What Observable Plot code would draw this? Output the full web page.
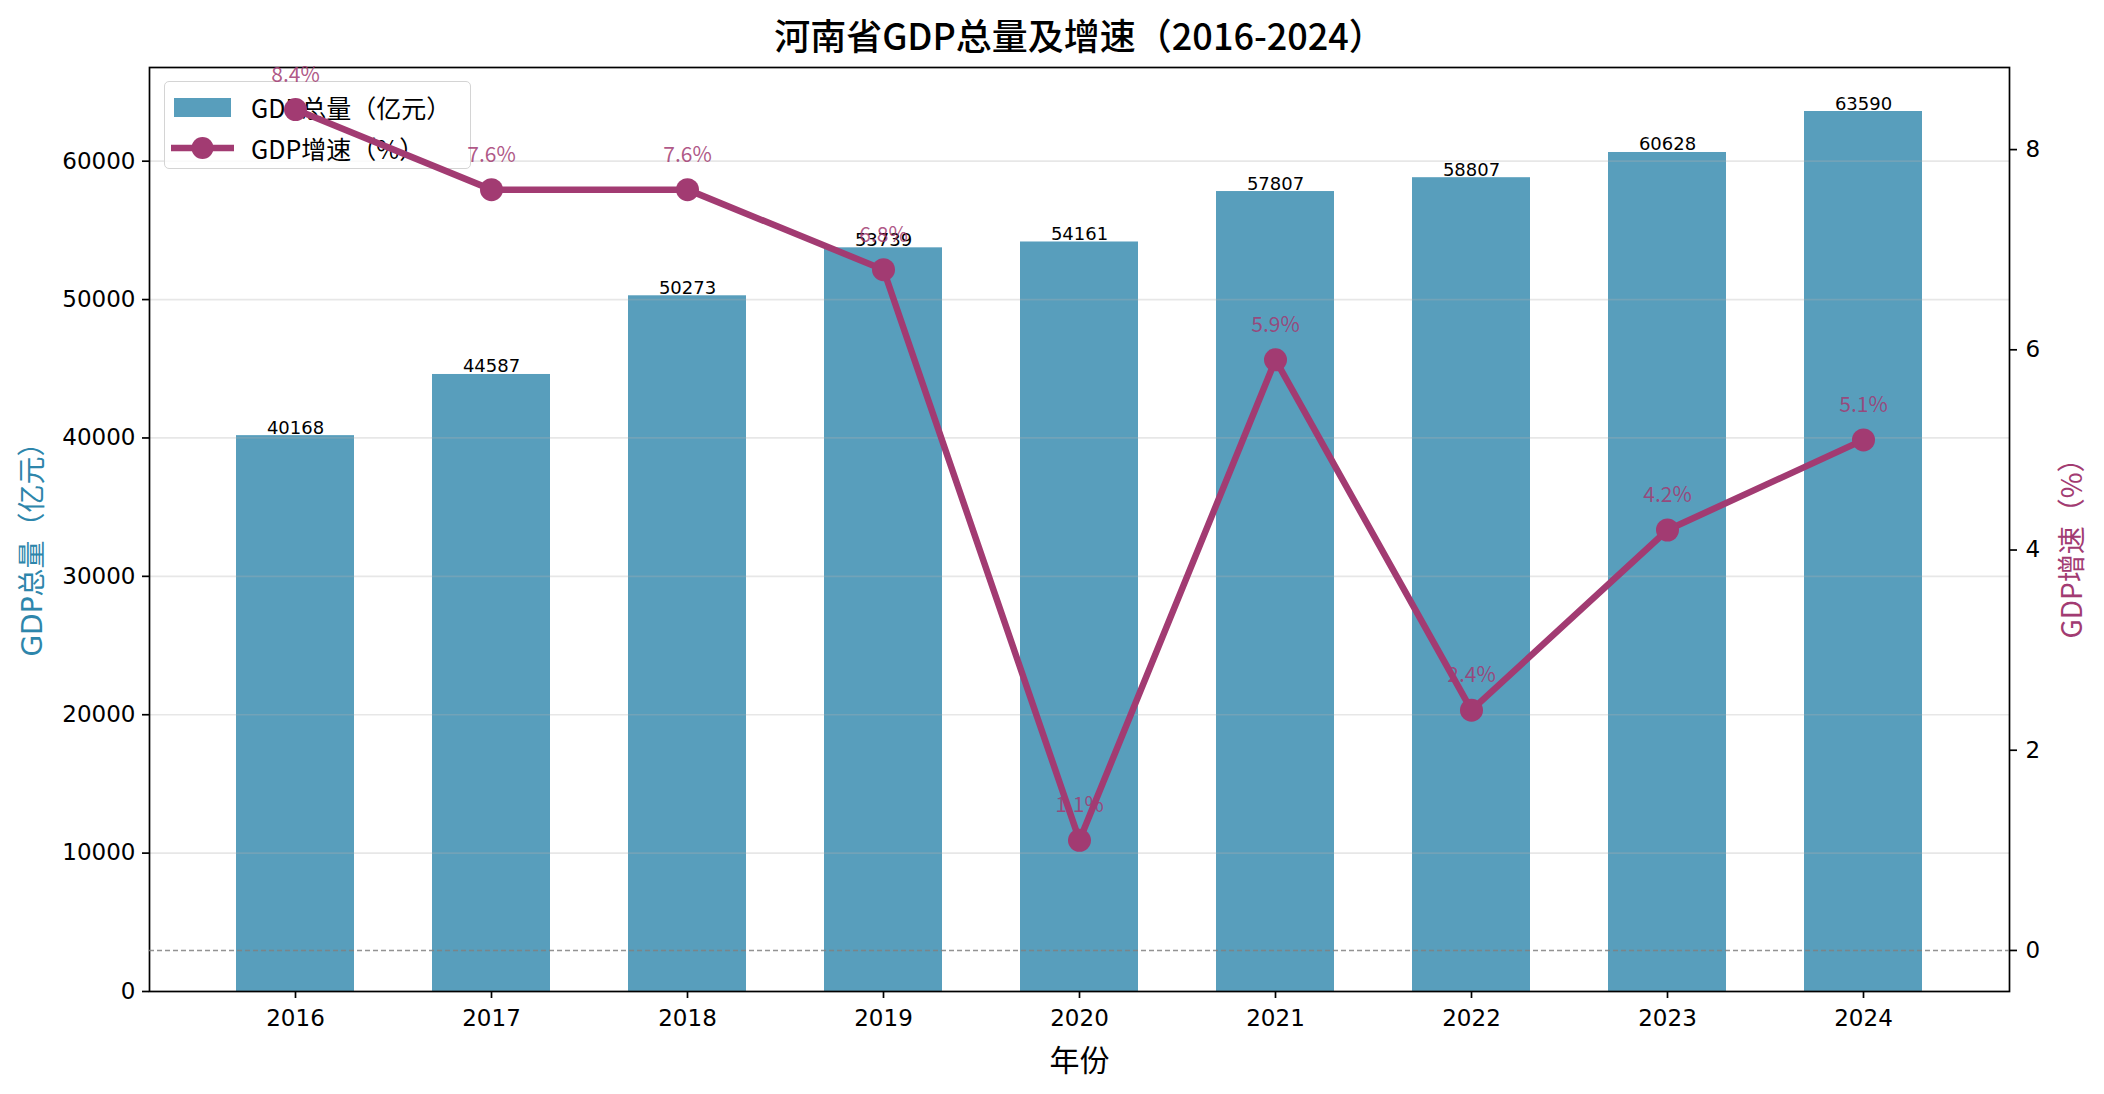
<!DOCTYPE html>
<html>
<head>
<meta charset="utf-8">
<script src="https://cdn.jsdelivr.net/npm/d3@7"></script>
<script src="https://cdn.jsdelivr.net/npm/@observablehq/plot@0.6"></script>
<style>
  html, body { margin: 0; padding: 0; background: white; overflow: hidden; }
  #wrap { position: relative; width: 2104px; height: 1094px; }
  #wrap > svg { position: absolute; left: 0; top: 0; }
  #legend {
    position: absolute; left: 164px; top: 81px; width: 307px; height: 88px;
    box-sizing: border-box; border: 1.7px solid #d4d4d4; border-radius: 5px;
    background: rgba(255,255,255,0.8);
    font-family: 'Noto Sans CJK SC', sans-serif; font-size: 25px; color: #000;
  }
  #legend .row { position: absolute; left: 0; height: 30px; }
  #legend .row span { position: absolute; left: 86px; top: 0; white-space: nowrap; line-height: 30px; }
</style>
</head>
<body>
<div id="wrap"></div>
<script>
// ---- data ----
const years = ["2016", "2017", "2018", "2019", "2020", "2021", "2022", "2023", "2024"];
const gdpTotal = [40168, 44587, 50273, 53739, 54161, 57807, 58807, 60628, 63590];
const gdpGrowth = [8.4, 7.6, 7.6, 6.8, 1.1, 5.9, 2.4, 4.2, 5.1];
const leftTicks = [0, 10000, 20000, 30000, 40000, 50000, 60000];
const rightTicks = [0, 2, 4, 6, 8];
const titleText = "河南省GDP总量及增速（2016-2024）";
const xLabel = "年份";
const leftLabel = "GDP总量（亿元）";
const rightLabel = "GDP增速（%）";
const legendBar = "GDP总量（亿元）";
const legendLine = "GDP增速（%）";

const rows = years.map((y, i) => ({year: y, gdp: gdpTotal[i], growth: gdpGrowth[i]}));

const BAR = "#2E86AB", LINE = "#A23B72";
const CJK = "'Noto Sans CJK SC', 'Noto Sans', sans-serif";
const NUM = "'DejaVu Sans', sans-serif";
const MIX = "'DejaVu Sans', 'Noto Sans CJK SC', sans-serif";
const W = 2104, H = 1094;
const M = {marginLeft: 149, marginRight: 95, marginTop: 67, marginBottom: 103};
const xScale = {type: "band", domain: years, paddingInner: 0.4, paddingOuter: 0.43};

const plotA = Plot.plot({
  width: W, height: H, ...M,
  x: xScale,
  y: {domain: [0, 66770]},
  style: {fontFamily: NUM, fontSize: "23px", background: "white", color: "black", overflow: "visible"},
  marks: [
    Plot.barY(rows, {x: "year", y: "gdp", fill: BAR, fillOpacity: 0.8}),
    Plot.gridY(leftTicks, {stroke: "#b0b0b0", strokeOpacity: 0.3, strokeWidth: 1.7}),
    Plot.text(rows, {x: "year", y: "gdp", text: d => String(d.gdp), lineAnchor: "bottom", dy: -2,
      fontSize: 18, fontFamily: NUM, fill: "black"}),
    Plot.frame({stroke: "black", strokeWidth: 1.7}),
    Plot.axisY(leftTicks, {anchor: "left", tickSize: 7, tickPadding: 7, strokeWidth: 1.7,
      tickFormat: d => String(d), label: null, fontSize: 23, fontFamily: NUM}),
    Plot.axisX({tickSize: 7, tickPadding: 11, strokeWidth: 1.7, label: null, fontSize: 23, fontFamily: NUM}),
    Plot.text([titleText], {frameAnchor: "top", dy: -29, lineAnchor: "middle", textAnchor: "middle",
      fontSize: 36, fontFamily: CJK, fontWeight: 500, fill: "black"}),
    Plot.text([xLabel], {frameAnchor: "bottom", dy: 70, lineAnchor: "middle", textAnchor: "middle",
      fontSize: 30, fontFamily: CJK, fill: "black"}),
    Plot.text([leftLabel], {frameAnchor: "left", dx: -116, dy: 13, rotate: -90, lineAnchor: "middle",
      textAnchor: "middle", fontSize: 28, fontFamily: MIX, fill: BAR})
  ]
});

const plotB = Plot.plot({
  width: W, height: H, ...M,
  x: {...xScale, axis: null},
  y: {domain: [-0.41, 8.82]},
  style: {fontFamily: NUM, fontSize: "23px", background: "transparent", color: "black", overflow: "visible"},
  marks: [
    Plot.ruleY([0], {stroke: "gray", strokeOpacity: 0.85, strokeWidth: 1.4, strokeDasharray: "5,3"}),
    Plot.text(rows, {x: "year", y: "growth", text: d => d.growth.toFixed(1) + "%", lineAnchor: "bottom",
      dy: -28, fontSize: 21, fontFamily: CJK, fill: LINE, fillOpacity: 0.85}),
    Plot.line(rows, {x: "year", y: "growth", stroke: LINE, strokeWidth: 6.5}),
    Plot.dot(rows, {x: "year", y: "growth", r: 11.5, fill: LINE}),
    Plot.axisY(rightTicks, {anchor: "right", tickSize: 7, tickPadding: 9, strokeWidth: 1.7,
      tickFormat: d => String(d), label: null, fontSize: 23, fontFamily: NUM}),
    Plot.text([rightLabel], {frameAnchor: "right", dx: 64, dy: 12, rotate: -90, lineAnchor: "middle",
      textAnchor: "middle", fontSize: 28, fontFamily: CJK, fill: LINE})
  ]
});

const wrap = document.getElementById("wrap");
wrap.appendChild(plotA);

// legend (between bar layer and line layer, as in the original)
const legend = document.createElement("div");
legend.id = "legend";
legend.innerHTML = `
  <div class="row" style="top:10px;width:100%">
    <svg width="80" height="30" style="position:absolute;left:0;top:0">
      <rect x="9" y="6" width="57" height="19" fill="${BAR}" fill-opacity="0.8"></rect>
    </svg>
    <span>${legendBar}</span>
  </div>
  <div class="row" style="top:51px;width:100%">
    <svg width="80" height="30" style="position:absolute;left:0;top:0">
      <line x1="6" x2="69" y1="15" y2="15" stroke="${LINE}" stroke-width="6.5"></line>
      <circle cx="37.5" cy="15" r="11" fill="${LINE}"></circle>
    </svg>
    <span>${legendLine}</span>
  </div>`;
wrap.appendChild(legend);
wrap.appendChild(plotB);
</script>
</body>
</html>
